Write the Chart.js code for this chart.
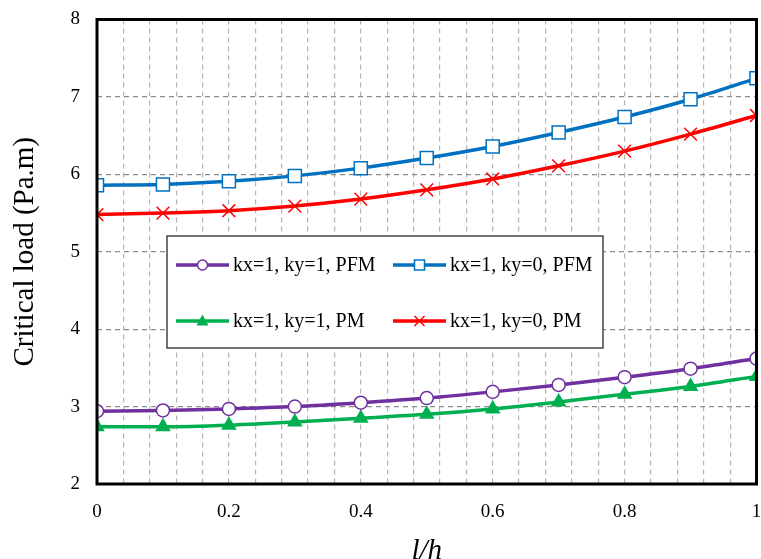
<!DOCTYPE html>
<html>
<head>
<meta charset="utf-8">
<script src="https://cdn.jsdelivr.net/npm/chart.js@4/dist/chart.umd.min.js"></script>
<style>
	html, body { margin: 0; padding: 0; background: #fff; }
	#wrap { width: 761px; height: 559px; position: relative; }
</style>
</head>
<body>
<div id="wrap"><canvas id="chart"></canvas></div>
<script>
// l/h ratio
const ratios = [0, 0.1, 0.2, 0.3, 0.4, 0.5, 0.6, 0.7, 0.8, 0.9, 1];

// critical load (Pa.m)
const k11Pfm = [2.94, 2.95, 2.97, 3.00, 3.05, 3.11, 3.19, 3.28, 3.38, 3.49, 3.62];
const k10Pfm = [5.86, 5.87, 5.91, 5.98, 6.08, 6.21, 6.36, 6.54, 6.74, 6.97, 7.24];
const k11Pm = [2.74, 2.74, 2.76, 2.80, 2.85, 2.90, 2.97, 3.06, 3.16, 3.26, 3.39];
const k10Pm = [5.48, 5.50, 5.53, 5.59, 5.68, 5.80, 5.94, 6.11, 6.30, 6.52, 6.76];

const seriesLabels = ['kx=1, ky=1, PFM', 'kx=1, ky=0, PFM', 'kx=1, ky=1, PM', 'kx=1, ky=0, PM'];

const FONT = '"Liberation Serif", "Times New Roman", serif';
const PLOT_RIGHT_GAP = 4.5;

const toPoints = (vals) => vals.map((v, i) => ({ x: ratios[i], y: v }));

const makeDataset = (label, vals, color, style, overrides = {}) => ({
	label: label,
	data: toPoints(vals),
	borderColor: color,
	backgroundColor: color,
	borderWidth: 3.5,
	pointStyle: style,
	pointRadius: 6.5,
	pointBorderWidth: 1.5,
	pointBorderColor: color,
	pointBackgroundColor: '#fff',
	cubicInterpolationMode: 'monotone',
	...overrides,
});

const datasets = [
	makeDataset(seriesLabels[0], k11Pfm, '#7030A0', 'circle', { pointRadius: 6.5 }),
	makeDataset(seriesLabels[1], k10Pfm, '#0070C0', 'rect', { pointRadius: 9.2 }),
	makeDataset(seriesLabels[2], k11Pm, '#00B050', 'triangle', { pointBackgroundColor: '#00B050', pointRadius: 7.5 }),
	makeDataset(seriesLabels[3], k10Pm, '#FF0000', 'crossRot', { pointRadius: 9, pointBorderWidth: 1.5 }),
];

function drawMarker(ctx, style, x, y, r) {
	ctx.save();
	ctx.beginPath();
	if (style === 'circle') {
		ctx.arc(x, y, r, 0, Math.PI * 2);
		ctx.fill();
		ctx.stroke();
	} else if (style === 'rect') {
		ctx.rect(x - r, y - r, r * 2, r * 2);
		ctx.fill();
		ctx.stroke();
	} else if (style === 'triangle') {
		ctx.moveTo(x, y - r);
		ctx.lineTo(x + r * 0.95, y + r * 0.75);
		ctx.lineTo(x - r * 0.95, y + r * 0.75);
		ctx.closePath();
		ctx.fill();
		ctx.stroke();
	} else {
		ctx.moveTo(x - r, y - r);
		ctx.lineTo(x + r, y + r);
		ctx.moveTo(x + r, y - r);
		ctx.lineTo(x - r, y + r);
		ctx.stroke();
	}
	ctx.restore();
}

// the "1" label would push the plot in; stretch the x scale back to the edge
const stretchPlugin = {
	id: 'stretch',
	afterLayout(chart) {
		const right = chart.width - PLOT_RIGHT_GAP;
		const area = chart.chartArea;
		area.right = right;
		area.width = right - area.left;
		const xs = chart.scales.x;
		xs.right = right;
		xs.width = right - xs.left;
		xs.configure();
	},
};

// frame around the plot area + boxed legend inside it
const framePlugin = {
	id: 'frame',
	afterDraw(chart) {
		const { ctx, chartArea: a } = chart;
		ctx.save();
		ctx.strokeStyle = '#000';
		ctx.lineWidth = 3;
		ctx.strokeRect(a.left, a.top, a.right - a.left, a.bottom - a.top);

		// legend box
		const box = { x: 167, y: 236, w: 436, h: 112 };
		ctx.fillStyle = '#fff';
		ctx.fillRect(box.x, box.y, box.w, box.h);
		ctx.strokeStyle = '#444';
		ctx.lineWidth = 1.5;
		ctx.strokeRect(box.x, box.y, box.w, box.h);

		const slots = [
			{ x: 176, y: 265 },
			{ x: 393, y: 265 },
			{ x: 176, y: 321 },
			{ x: 393, y: 321 },
		];
		ctx.font = '20px ' + FONT;
		ctx.textBaseline = 'middle';
		chart.data.datasets.forEach((ds, i) => {
			const s = slots[i];
			ctx.strokeStyle = ds.borderColor;
			ctx.lineWidth = 3.5;
			ctx.beginPath();
			ctx.moveTo(s.x, s.y);
			ctx.lineTo(s.x + 53, s.y);
			ctx.stroke();
			ctx.fillStyle = ds.pointBackgroundColor;
			ctx.strokeStyle = ds.pointBorderColor;
			ctx.lineWidth = ds.pointBorderWidth;
			drawMarker(ctx, ds.pointStyle, s.x + 26.5, s.y, 5);
			ctx.fillStyle = '#000';
			ctx.fillText(ds.label, s.x + 57, s.y + 1);
		});
		ctx.restore();
	},
};

new Chart(document.getElementById('chart'), {
	type: 'line',
	data: { datasets: datasets },
	options: {
		responsive: true,
		maintainAspectRatio: false,
		animation: false,
		layout: { padding: { top: 19.5, right: PLOT_RIGHT_GAP, left: 0, bottom: 0 } },
		plugins: {
			legend: { display: false },
			tooltip: { enabled: false },
		},
		scales: {
			x: {
				type: 'linear',
				min: 0,
				max: 1,
				afterBuildTicks: (scale) => {
					scale.ticks = [];
					for (let i = 0; i <= 25; i++) scale.ticks.push({ value: i * 0.04 });
				},
				ticks: {
					autoSkip: false,
					maxRotation: 0,
					padding: 17,
					color: '#000',
					font: { family: FONT, size: 19 },
					callback: (v) => {
						const k = Math.round(v * 25);
						return k % 5 === 0 ? String(+(k * 0.04).toFixed(1)) : '';
					},
				},
				grid: {
					color: '#b4b4b4',
					lineWidth: 1.2,
					drawTicks: false,
				},
				border: { display: false, dash: [5, 4] },
				title: {
					display: true,
					text: 'l/h',
					color: '#000',
					font: { family: FONT, size: 29, style: 'italic' },
					padding: { top: 0, bottom: -10 },
				},
				afterFit: (scale) => {
					scale.height = 75;
				},
			},
			y: {
				min: 2,
				max: 8,
				ticks: {
					stepSize: 1,
					padding: 17,
					color: '#000',
					font: { family: FONT, size: 19 },
				},
				grid: {
					color: '#8c8c8c',
					lineWidth: 1.2,
					drawTicks: false,
				},
				border: { display: false, dash: [5, 4] },
				title: {
					display: true,
					text: 'Critical load (Pa.m)',
					color: '#000',
					font: { family: FONT, size: 29 },
					padding: { top: 8, bottom: 0 },
				},
				afterFit: (scale) => {
					scale.width = 97;
					scale.paddingTop = 0;
					scale.paddingBottom = 0;
				},
			},
		},
	},
	plugins: [stretchPlugin, framePlugin],
});
</script>
</body>
</html>
